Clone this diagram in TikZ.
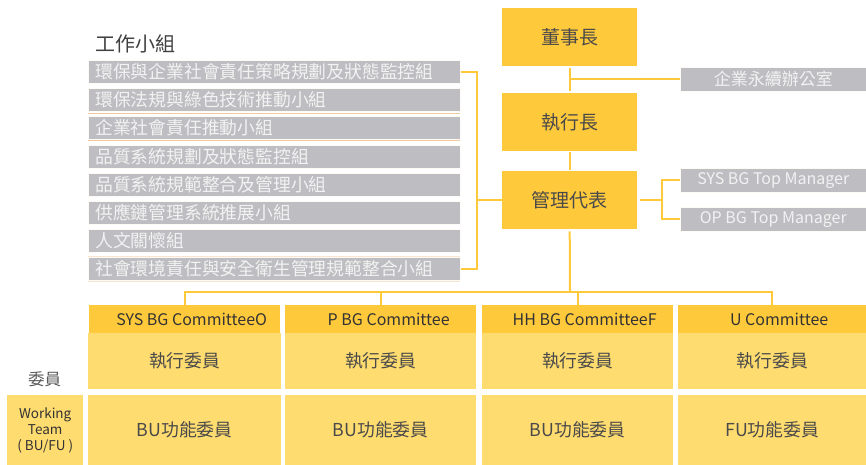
\documentclass[tikz,border=0pt]{standalone}
\usepackage{fontspec}
\usetikzlibrary{calc}
\setmainfont{Noto Sans CJK TC}
\definecolor{cGold}{HTML}{FFC93C}
\definecolor{cLight}{HTML}{FFDC70}
\definecolor{cGray}{HTML}{BEBEC2}
\definecolor{cGrayTxt}{HTML}{F2F2F2}
\definecolor{cDark}{HTML}{4A4A4A}
\definecolor{cPeach}{HTML}{F3C9A0}
\begin{document}
\begin{tikzpicture}[x=1pt,y=-1pt,
  every node/.style={inner sep=0pt, anchor=north west},
  topbox/.style={fill=cGold, text=cDark, minimum width=135pt, minimum height=58pt, font=\fontsize{19}{22}\selectfont},
  listbox/.style={fill=cGray, draw=white!90!cPeach, line width=0.6pt, text=cGrayTxt, minimum height=23pt, text width=358pt, inner xsep=7pt, align=left, font=\fontsize{17.8}{20}\selectfont},
  sidebox/.style={fill=cGray, draw=white!90!cPeach, line width=0.6pt, text=cGrayTxt, minimum width=186pt, minimum height=24pt, font=\fontsize{16}{19}\selectfont},
  headbox/.style={fill=cGold, text=black!80, minimum height=28pt, font=\fontsize{16}{19}\selectfont},
  cellbox/.style={fill=cLight, text=cDark, font=\fontsize{17.8}{21}\selectfont},
  conn/.style={draw=cGold, line width=2pt},
  peach/.style={draw=cPeach, line width=0.8pt}
]
\useasboundingbox (0,0) rectangle (866,465);

% title
\node[anchor=west, text=black!75, font=\fontsize{20}{23}\selectfont] (title) at (95,44) {工作小組};

% working group list
\node[listbox] (g1) at (88,60)  {環保與企業社會責任策略規劃及狀態監控組};
\node[listbox] (g2) at (88,88)  {環保法規與綠色技術推動小組};
\node[listbox] (g3) at (88,116) {企業社會責任推動小組};
\node[listbox] (g4) at (88,145) {品質系統規劃及狀態監控組};
\node[listbox] (g5) at (88,173) {品質系統規範整合及管理小組};
\node[listbox] (g6) at (88,201) {供應鏈管理系統推展小組};
\node[listbox] (g7) at (88,229) {人文關懷組};
\node[listbox] (g8) at (88,257) {社會環境責任與安全衛生管理規範整合小組};
\draw[peach] (g2.south west) ++(0,1.5) -- ++(372,0);
\draw[peach] (g3.south west) ++(0,1) -- ++(372,0);
\draw[peach, draw=cPeach!50] (g8.north west) ++(0,-1) -- ++(372,0);
\draw[peach, draw=cPeach!50] (g8.south west) ++(0,1) -- ++(372,0);

% top chain
\node[topbox] (chair) at (502,8)   {董事長};
\node[topbox] (ceo)   at (502,93)  {執行長};
\node[topbox] (mr)    at (502,171) {管理代表};
\node[sidebox, font=\fontsize{17}{19}\selectfont] (office) at (680,67)  {企業永續辦公室};
\node[sidebox] (sysm)   at (680,168) {SYS BG Top Manager};
\node[sidebox] (opm)    at (680,207) {OP BG Top Manager};

\draw[conn] ($(chair.south)+(0,2)$) -- ($(ceo.north)+(0,-2)$);
\draw[conn] (chair.south |- office.west) -- (office.west);
\draw[conn] ($(ceo.south)+(0,1)$) -- ($(mr.north)+(0,-1)$);

\coordinate (rj) at (662,200);
\draw[conn] ($(mr.east |- rj)+(3,0)$) -- (rj);
\draw[conn] (sysm.west) -| (rj) |- (opm.west);

\coordinate (bx) at (477,200);
\draw[conn] (g1.east) -| (bx) |- (g8.east);
\draw[conn] (bx) -- (mr.west |- bx);

% committees
\node[headbox, minimum width=191pt] (h1) at (89,305)  {\hspace*{14pt}SYS BG CommitteeO};
\node[headbox, minimum width=191pt] (h2) at (285,305) {\hspace*{16pt}P BG Committee};
\node[headbox, minimum width=191pt] (h3) at (482,305) {\hspace*{14pt}HH BG CommitteeF};
\node[headbox, minimum width=188pt] (h4) at (678,305) {\hspace*{14pt}U Committee};

\node[cellbox, minimum width=193pt, minimum height=56pt] (e1) at (88,333)  {執行委員};
\node[cellbox, minimum width=191pt, minimum height=56pt] (e2) at (285,333) {執行委員};
\node[cellbox, minimum width=191pt, minimum height=56pt] (e3) at (482,333) {執行委員};
\node[cellbox, minimum width=188pt, minimum height=56pt] (e4) at (678,333) {執行委員};

\node[cellbox, minimum width=193pt, minimum height=70pt] (b1) at (88,395)  {BU功能委員};
\node[cellbox, minimum width=191pt, minimum height=70pt] (b2) at (285,395) {BU功能委員};
\node[cellbox, minimum width=191pt, minimum height=70pt] (b3) at (482,395) {BU功能委員};
\node[cellbox, minimum width=188pt, minimum height=70pt] (b4) at (678,395) {FU功能委員};

\node[cellbox, minimum width=76pt, minimum height=70pt, align=center, text=black!80, font=\fontsize{13.5}{16}\selectfont] (wt) at (7,395) {Working\\Team\\( BU/FU )};
\node[anchor=center, text=black!65, font=\fontsize{16.5}{19}\selectfont] (wy) at (44.5,379) {委員};

\coordinate (bus) at (570,292);
\draw[conn] ($(mr.south)+(0,2)$) -- (bus);
\draw[conn] (h1.north) -- (h1.north |- bus) -- (h4.north |- bus) -- (h4.north);
\draw[conn] (h2.north) -- (h2.north |- bus);
\draw[conn] (h3.north) -- (h3.north |- bus);
\end{tikzpicture}
\end{document}
